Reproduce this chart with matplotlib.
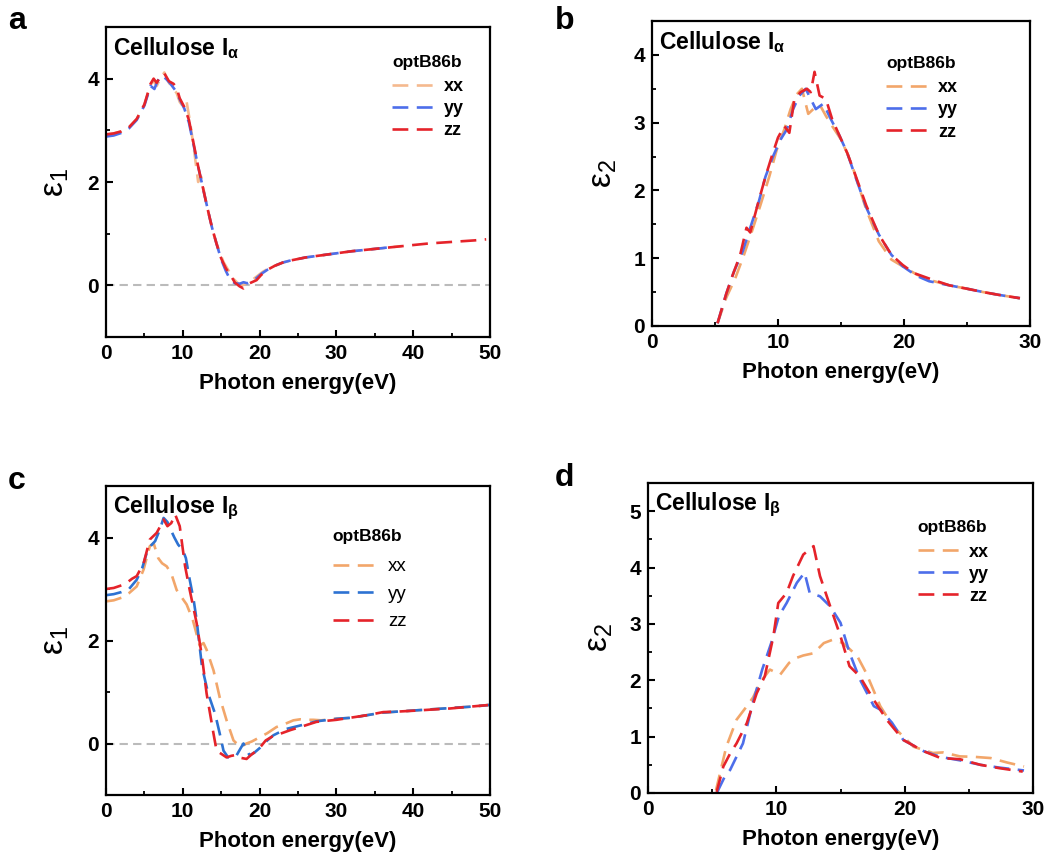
import matplotlib
matplotlib.use("Agg")
import matplotlib.pyplot as plt

plt.rcParams['font.family'] = ['Liberation Sans', 'DejaVu Sans']
plt.rcParams['mathtext.fontset'] = 'custom'
plt.rcParams['mathtext.rm'] = 'Liberation Sans'
plt.rcParams['mathtext.it'] = 'Liberation Sans:italic'
plt.rcParams['mathtext.bf'] = 'Liberation Sans:bold'

# ---------------- data ----------------
# Panel a: real part, cellulose I-alpha
a_xx_E = [0, 1, 2, 3, 4, 5, 5.8, 6.2, 6.6, 7.0, 7.6, 8.2, 8.8, 9.2, 9.6, 10.1, 10.5, 10.9,
          11.4, 12.0, 12.4, 12.9, 13.5, 14.1, 14.7, 15.3, 15.9, 16.5, 17.1, 17.7, 18.3, 19.0,
          19.7, 20.4, 21.2, 22.0, 23.0, 24.0, 26, 28, 30, 32, 34, 36, 38.5]
a_xx_v = [2.92, 2.94, 2.98, 3.06, 3.22, 3.5, 3.88, 3.96, 3.86, 3.98, 4.12, 3.92, 3.8, 3.72,
          3.55, 3.45, 3.55, 3.2, 2.7, 2.0, 2.1, 1.7, 1.3, 0.95, 0.68, 0.45, 0.3, 0.14, 0.05,
          0.0, 0.04, 0.1, 0.18, 0.26, 0.33, 0.38, 0.44, 0.48, 0.54, 0.58, 0.62, 0.66, 0.69,
          0.72, 0.76]
a_yy_E = [0, 1, 2, 3, 4, 5, 5.8, 6.3, 6.7, 7.2, 7.8, 8.4, 9.0, 9.6, 10.2, 10.8, 11.4, 12.0,
          12.6, 13.2, 13.8, 14.4, 15.0, 15.6, 16.2, 16.8, 17.4, 17.9, 18.4, 19.0, 19.6, 20.2,
          21.0, 22.0, 23.0, 24.0, 26, 28, 30, 32, 34, 36, 37.5]
a_yy_v = [2.88, 2.9, 2.95, 3.04, 3.2, 3.48, 3.86, 3.8, 3.95, 4.06, 4.0, 3.9, 3.78, 3.6, 3.42,
          3.15, 2.72, 2.3, 1.9, 1.5, 1.12, 0.8, 0.5, 0.28, 0.1, 0.04, 0.03, 0.06, 0.04, 0.08,
          0.14, 0.22, 0.3, 0.38, 0.44, 0.48, 0.54, 0.58, 0.62, 0.66, 0.69, 0.72, 0.75]
a_zz_E = [0, 1, 2, 3, 4, 5, 5.8, 6.2, 6.6, 7.0, 7.6, 8.2, 8.8, 9.2, 9.6, 10.2, 10.8, 11.4,
          12.0, 12.6, 13.2, 13.8, 14.4, 15.0, 15.6, 16.2, 16.8, 17.4, 17.9, 18.4, 19.0, 19.6,
          20.2, 21.0, 22.0, 23.0, 24.0, 26, 28, 30, 32, 34, 36, 38, 40, 42, 44, 46, 48, 49.5]
a_zz_v = [2.92, 2.94, 2.98, 3.06, 3.22, 3.5, 3.9, 4.0, 3.92, 4.02, 4.1, 3.95, 3.9, 3.82, 3.62,
          3.45, 3.2, 2.75, 2.3, 1.9, 1.5, 1.12, 0.8, 0.52, 0.33, 0.2, 0.05, -0.02, -0.06, 0.02,
          0.06, 0.1, 0.2, 0.3, 0.38, 0.44, 0.48, 0.54, 0.58, 0.62, 0.66, 0.69, 0.72, 0.75,
          0.78, 0.81, 0.83, 0.85, 0.87, 0.89]

# Panel b: imaginary part, cellulose I-alpha
b_xx_E = [5.2, 5.9, 6.6, 7.3, 7.9, 8.6, 9.3, 9.9, 10.5, 11.0, 11.5, 11.9, 12.4, 12.8, 13.3,
          13.8, 14.3, 14.9, 15.5, 16.0, 17.0, 18.0, 19.0, 19.9, 21.0, 22.0, 23.6, 25.0, 26.3,
          27.5, 29.2]
b_xx_v = [0.04, 0.42, 0.7, 1.05, 1.38, 1.78, 2.2, 2.6, 2.9, 3.2, 3.42, 3.5, 3.13, 3.2, 3.27,
          3.1, 2.95, 2.78, 2.55, 2.3, 1.72, 1.25, 0.98, 0.88, 0.76, 0.68, 0.6, 0.55, 0.5,
          0.46, 0.41]
b_yy_E = [5.2, 5.9, 6.5, 7.2, 7.8, 8.5, 9.0, 9.6, 10.2, 10.7, 11.2, 11.7, 12.2, 12.6, 13.0,
          13.6, 14.2, 14.9, 15.5, 16.0, 17.0, 18.0, 19.0, 19.9, 21.0, 22.0, 23.6, 25.0, 26.3,
          27.5, 29.2]
b_yy_v = [0.04, 0.48, 0.8, 1.1, 1.45, 1.85, 2.2, 2.5, 2.75, 2.9, 3.2, 3.4, 3.5, 3.35, 3.2,
          3.28, 3.05, 2.8, 2.55, 2.28, 1.75, 1.35, 1.05, 0.88, 0.74, 0.66, 0.6, 0.55, 0.5,
          0.46, 0.41]
b_zz_E = [5.2, 5.9, 6.4, 7.0, 7.5, 7.8, 8.4, 9.0, 9.5, 10.0, 10.5, 10.9, 11.3, 11.8, 12.3,
          12.6, 12.9, 13.3, 13.8, 14.3, 14.9, 15.5, 16.0, 17.0, 18.0, 19.0, 19.9, 20.8, 22.0,
          23.6, 25.0, 26.3, 27.5, 29.2]
b_zz_v = [0.04, 0.48, 0.75, 1.05, 1.45, 1.38, 1.8, 2.2, 2.5, 2.78, 2.95, 2.85, 3.35, 3.45,
          3.5, 3.45, 3.75, 3.4, 3.35, 3.05, 2.8, 2.55, 2.3, 1.78, 1.35, 1.05, 0.9, 0.78, 0.7,
          0.6, 0.55, 0.5, 0.46, 0.41]

# Panel c: real part, cellulose I-beta
c_xx_E = [0, 1, 2, 3, 4, 4.9, 5.7, 6.2, 6.8, 7.3, 7.9, 8.5, 9.2, 9.8, 10.5, 11.3, 12.2,
          12.7, 13.1, 14.0, 14.8, 15.7, 16.6, 17.5, 18.3, 19.0, 20.0, 21.0, 22.2, 23.3, 24.4,
          25.3, 26.2, 27.0, 28, 30, 32, 34, 36, 38, 40, 42, 44, 46, 48, 50]
c_xx_v = [2.76, 2.78, 2.83, 2.92, 3.05, 3.38, 3.83, 3.89, 3.6, 3.5, 3.44, 3.3, 2.98, 2.85,
          2.7, 2.4, 1.9, 1.95, 1.82, 1.42, 0.9, 0.45, 0.06, -0.07, 0.0, 0.04, 0.12, 0.2, 0.32,
          0.38, 0.45, 0.47, 0.46, 0.46, 0.45, 0.48, 0.5, 0.55, 0.6, 0.62, 0.64, 0.66, 0.68,
          0.7, 0.72, 0.75]
c_yy_E = [0, 1, 2, 3, 4, 4.7, 5.3, 5.9, 6.4, 7.0, 7.5, 8.0, 8.4, 8.9, 9.4, 10.0, 10.4,
          10.9, 11.4, 11.8, 12.5, 13.3, 14.2, 14.8, 15.3, 15.9, 16.5, 17.0, 17.5, 17.9, 18.3,
          18.7, 19.3, 20.0, 21.0, 21.8, 23.4, 25.3, 27.4, 30, 32, 34, 36, 38, 40, 42, 44,
          46, 48, 50]
c_yy_v = [2.88, 2.9, 2.94, 3.0, 3.18, 3.4, 3.7, 3.85, 3.93, 4.15, 4.38, 4.3, 4.16, 4.0,
          3.86, 3.76, 3.6, 3.18, 2.8, 2.4, 1.49, 0.97, 0.58, 0.2, -0.14, -0.27, -0.25,
          -0.23, -0.1, 0.0, -0.12, -0.23, -0.18, -0.09, 0.06, 0.16, 0.28, 0.35, 0.43, 0.48,
          0.5, 0.55, 0.6, 0.62, 0.64, 0.66, 0.68, 0.7, 0.72, 0.75]
c_zz_E = [0, 1, 2, 2.7, 3.4, 4.0, 4.9, 5.7, 6.6, 7.0, 7.5, 8.0, 8.5, 9.0, 9.6, 10.3,
          10.9, 11.8, 12.5, 13.1, 14.0, 14.4, 15.0, 15.7, 16.3, 17.0, 17.6, 18.3, 18.9,
          19.6, 20.2, 20.8, 21.7, 22.7, 24.0, 25.3, 27.4, 30, 31.8, 34, 36.1, 38, 40.5, 42.5,
          44.8, 47, 50]
c_zz_v = [3.0, 3.02, 3.07, 3.12, 3.2, 3.25, 3.5, 3.96, 4.09, 4.2, 4.35, 4.22, 4.28, 4.45,
          4.22, 3.44, 2.98, 2.34, 1.68, 0.97, 0.19, -0.14, -0.2, -0.27, -0.24, -0.22, -0.28,
          -0.3, -0.22, -0.14, -0.05, 0.06, 0.14, 0.19, 0.26, 0.32, 0.42, 0.46, 0.5, 0.55,
          0.61, 0.62, 0.64, 0.66, 0.68, 0.71, 0.75]

# Panel d: imaginary part, cellulose I-beta
d_xx_E = [5.3, 6.1, 6.9, 7.7, 8.2, 8.7, 9.5, 10.3, 11.0, 11.6, 12.1, 12.9, 13.7, 14.4,
          15.2, 16.3, 17.0, 18.1, 19.1, 20.7, 22.2, 23.0, 24.3, 25.5, 26.7, 28.0, 29.3]
d_xx_v = [0.05, 0.82, 1.3, 1.54, 1.7, 1.95, 2.19, 2.1, 2.31, 2.4, 2.44, 2.48, 2.66, 2.72,
          2.66, 2.43, 2.13, 1.54, 1.18, 0.82, 0.71, 0.72, 0.65, 0.64, 0.62, 0.54, 0.47]
d_yy_E = [5.4, 6.0, 6.4, 7.4, 8.1, 8.9, 9.6, 10.2, 10.8, 11.6, 12.2, 12.6, 13.4, 14.2,
          15.0, 15.7, 16.5, 17.6, 18.1, 19.0, 19.9, 21.5, 22.8, 24.3, 25.9, 27.4, 29.3]
d_yy_v = [0.02, 0.3, 0.41, 0.88, 1.54, 2.19, 2.66, 3.14, 3.37, 3.73, 3.91, 3.55, 3.49,
          3.31, 3.02, 2.49, 2.02, 1.54, 1.48, 1.25, 0.94, 0.74, 0.64, 0.58, 0.5, 0.45, 0.4]
d_zz_E = [5.35, 5.87, 6.4, 6.9, 7.7, 8.47, 9.1, 9.77, 10.15, 10.8, 11.3, 12.1, 12.9,
          13.4, 14.2, 15.0, 15.7, 16.5, 17.6, 18.6, 19.9, 21.5, 22.8, 24.3, 25.9, 27.4, 29.2]
d_zz_v = [0.02, 0.47, 0.7, 0.88, 1.24, 1.77, 2.07, 2.78, 3.37, 3.55, 3.85, 4.23, 4.38,
          3.85, 3.31, 2.78, 2.25, 2.07, 1.65, 1.3, 0.94, 0.74, 0.62, 0.6, 0.5, 0.44, 0.38]

series_labels = ['xx', 'yy', 'zz']
panel_letters = ['a', 'b', 'c', 'd']

# ---------------- styling ----------------
W, H = 1048, 859
fig = plt.figure(figsize=(W / 100, H / 100), dpi=100)
fig.patch.set_facecolor('white')


def px_axes(left, top, right, bottom):
    return fig.add_axes([left / W, 1 - bottom / H, (right - left) / W, (bottom - top) / H])


COL_XX = '#F2A66A'
COL_XX_LIGHT = '#F5B98E'
COL_YY = '#4D6EEA'
COL_YY_C = '#2D72D2'
COL_ZZ = '#E5232A'
DASH = (6.0, 3.2)
LW = 1.9


def style_axes(ax, xlim, ylim, xmaj, xmin, ymaj, ymin):
    ax.set_xlim(*xlim)
    ax.set_ylim(*ylim)
    ax.set_xticks(xmaj)
    ax.set_xticks(xmin, minor=True)
    ax.set_yticks(ymaj)
    ax.set_yticks(ymin, minor=True)
    for s in ax.spines.values():
        s.set_linewidth(1.6)
    ax.tick_params(which='major', direction='in', length=5, width=1.5,
                   labelsize=15, pad=5)
    ax.tick_params(which='minor', direction='in', length=3, width=1.3)
    for lab in ax.get_xticklabels() + ax.get_yticklabels():
        lab.set_fontweight('bold')
    ax.set_xlabel('Photon energy(eV)', fontsize=16, fontweight='bold', labelpad=7)


def draw(ax, data, colors):
    handles = []
    for (E, v), c, lab in zip(data, colors, series_labels):
        ln, = ax.plot(E, v, color=c, lw=LW, dashes=DASH, label=lab)
        handles.append(ln)
    return handles


# Panel a
ax_a = px_axes(106, 27, 490, 337)
style_axes(ax_a, (0, 50), (-1, 5), [0, 10, 20, 30, 40, 50], [5, 15, 25, 35, 45],
           [0, 2, 4], [1, 3])
ax_a.axhline(0, color='#BBBBBB', lw=1.5, dashes=(4, 2.5), zorder=0)
draw(ax_a, [(a_xx_E, a_xx_v), (a_yy_E, a_yy_v), (a_zz_E, a_zz_v)],
     [COL_XX_LIGHT, COL_YY, COL_ZZ])
ax_a.set_ylabel(r'$\mathrm{\varepsilon}_{1}$', fontsize=24, labelpad=12)

# Panel b
ax_b = px_axes(652, 21, 1030, 326)
style_axes(ax_b, (0, 30), (0, 4.5), [0, 10, 20, 30], [5, 15, 25],
           [0, 1, 2, 3, 4], [0.5, 1.5, 2.5, 3.5])
draw(ax_b, [(b_xx_E, b_xx_v), (b_yy_E, b_yy_v), (b_zz_E, b_zz_v)],
     [COL_XX, COL_YY, COL_ZZ])
ax_b.set_ylabel(r'$\mathrm{\varepsilon}_{2}$', fontsize=24, labelpad=10)

# Panel c
ax_c = px_axes(106, 486, 490, 795)
style_axes(ax_c, (0, 50), (-1, 5), [0, 10, 20, 30, 40, 50], [5, 15, 25, 35, 45],
           [0, 2, 4], [1, 3])
ax_c.axhline(0, color='#BBBBBB', lw=1.5, dashes=(4, 2.5), zorder=0)
draw(ax_c, [(c_xx_E, c_xx_v), (c_yy_E, c_yy_v), (c_zz_E, c_zz_v)],
     [COL_XX, COL_YY_C, COL_ZZ])
ax_c.set_ylabel(r'$\mathrm{\varepsilon}_{1}$', fontsize=24, labelpad=12)

# Panel d
ax_d = px_axes(648, 483, 1033, 793)
style_axes(ax_d, (0, 30), (0, 5.5), [0, 10, 20, 30], [5, 15, 25],
           [0, 1, 2, 3, 4, 5], [0.5, 1.5, 2.5, 3.5, 4.5])
draw(ax_d, [(d_xx_E, d_xx_v), (d_yy_E, d_yy_v), (d_zz_E, d_zz_v)],
     [COL_XX, COL_YY, COL_ZZ])
ax_d.set_ylabel(r'$\mathrm{\varepsilon}_{2}$', fontsize=24, labelpad=10)

# Titles inside the axes
titles = [r'Cellulose I$_{\mathbf{\alpha}}$', r'Cellulose I$_{\mathbf{\alpha}}$',
          r'Cellulose I$_{\mathbf{\beta}}$', r'Cellulose I$_{\mathbf{\beta}}$']
for ax, t in zip([ax_a, ax_b, ax_c, ax_d], titles):
    ax.text(0.018, 0.975, t, transform=ax.transAxes, ha='left', va='top',
            fontsize=16.5, fontweight='bold')

# Legends
leg_kw = dict(frameon=False, title='optB86b', alignment='left', borderpad=0,
              borderaxespad=0)
la = ax_a.legend(loc='upper left', bbox_to_anchor=(0.745, 0.91), handlelength=2.6,
                 handletextpad=0.25, labelspacing=0.28, prop={'weight': 'bold', 'size': 13},
                 title_fontproperties={'weight': 'bold', 'size': 12.5}, **leg_kw)
lb = ax_b.legend(loc='upper left', bbox_to_anchor=(0.62, 0.885), handlelength=2.6,
                 handletextpad=0.25, labelspacing=0.28, prop={'weight': 'bold', 'size': 13},
                 title_fontproperties={'weight': 'bold', 'size': 12.5}, **leg_kw)
lc = ax_c.legend(loc='upper left', bbox_to_anchor=(0.59, 0.86), handlelength=2.6,
                 handletextpad=0.35, labelspacing=0.55, prop={'size': 13.5},
                 title_fontproperties={'weight': 'bold', 'size': 12.5}, **leg_kw)
ld = ax_d.legend(loc='upper left', bbox_to_anchor=(0.70, 0.88), handlelength=2.6,
                 handletextpad=0.25, labelspacing=0.28, prop={'weight': 'bold', 'size': 13},
                 title_fontproperties={'weight': 'bold', 'size': 12.5}, **leg_kw)
for leg in (la, lb, ld):
    leg._legend_box.sep = 6
lc._legend_box.sep = 10

# Panel letters
for (x, y), letter in zip([(8, 6), (555, 6), (8, 466), (555, 463)], panel_letters):
    fig.text(x / W, 1 - y / H, letter, fontsize=23, fontweight='bold', ha='left', va='top')

fig.savefig('out.png', dpi=100)
